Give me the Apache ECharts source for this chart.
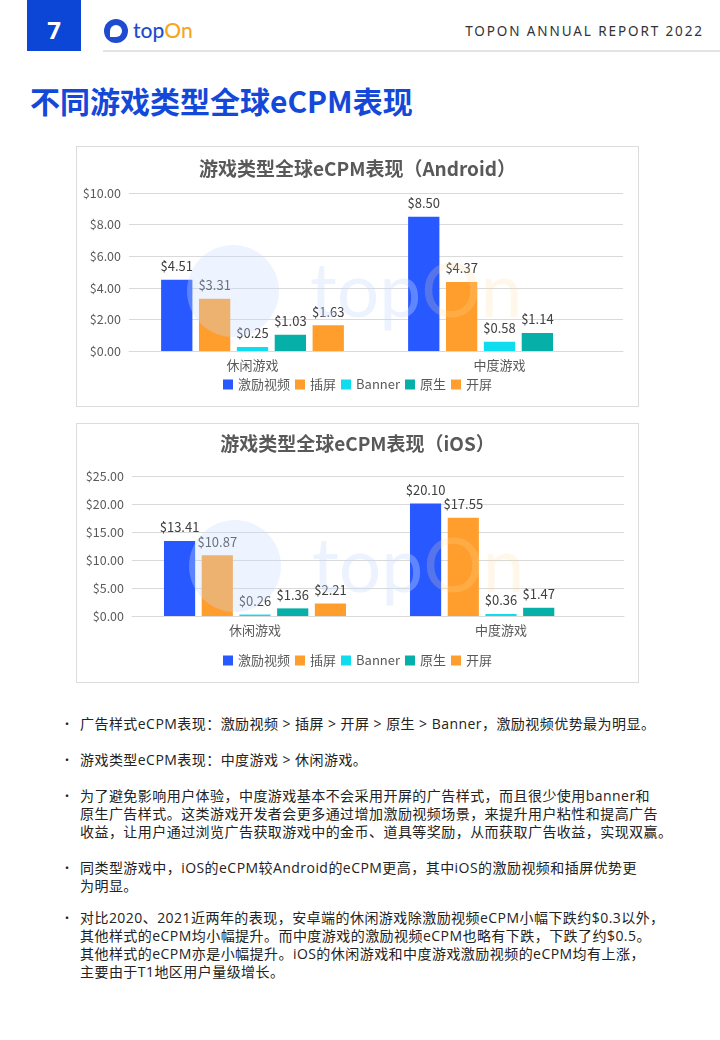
<!DOCTYPE html>
<html>
<head>
<meta charset="utf-8">
<script src="https://cdn.jsdelivr.net/npm/echarts@6/dist/echarts.min.js"></script>
<style>
  html, body { margin:0; padding:0; background:#fff; }
  body { width:720px; height:1040px; position:relative; overflow:hidden; font-family:"Noto Sans CJK SC","Noto Sans",sans-serif; }
  .abs { position:absolute; }
  #pagebox { left:27px; top:0; width:54px; height:51px; background:#0b46d6; color:#fff; font:bold 24px "Noto Sans","DejaVu Sans",sans-serif; text-align:center; line-height:60px; }
  #hline { left:103px; top:50px; width:617px; height:2px; background:#e3e3e3; }
  #logoIcon { left:104px; top:19px; width:24px; height:24px; border-radius:50%; background:#1f4bd1; }
  #logoText { left:133px; top:16px; font:500 21px "Lato","Noto Sans",sans-serif; line-height:28px; }
  #report { right:16px; top:22px; font:13.5px "Noto Sans","DejaVu Sans",sans-serif; letter-spacing:1.9px; color:#333; line-height:18px; }
  #pageTitle { left:30px; top:79px; font:bold 30px "Noto Sans CJK SC",sans-serif; color:#1448d8; line-height:42px; white-space:nowrap; }
  .box { border:1.5px solid #dcdcdc; box-sizing:border-box; }
  .bl { position:absolute; left:80px; font-size:14px; font-family:"Open Sans","Noto Sans CJK SC",sans-serif; letter-spacing:0.45px; color:#222; line-height:18px; white-space:nowrap; }
  .bl .cjk { font-family:"Noto Sans CJK SC",sans-serif; }
  .dot { position:absolute; left:61px; font-size:12px; color:#222; line-height:18px; }
</style>
</head>
<body>
<div id="pagebox" class="abs">7</div>
<div id="logoIcon" class="abs"><div style="position:absolute;left:6px;top:6px;width:12px;height:12px;border-radius:50% 50% 50% 0;background:#fff;"></div></div>
<div id="logoText" class="abs"><span style="color:#1f4bd1">top</span><span style="color:#f5a623">On</span></div>
<div id="report" class="abs">TOPON ANNUAL REPORT 2022</div>
<div id="hline" class="abs"></div>
<div id="pageTitle" class="abs">不同游戏类型全球eCPM表现</div>

<div class="abs box" style="left:76px;top:146px;width:563px;height:261px;"></div>
<div id="c1" class="abs" style="left:76px;top:146px;width:563px;height:261px;"></div>
<div class="abs box" style="left:76px;top:423px;width:563px;height:260px;"></div>
<div id="c2" class="abs" style="left:76px;top:423px;width:563px;height:260px;"></div>

<div id="bullets"></div>

<script>
// ---- data ----
const categories = ['休闲游戏', '中度游戏'];
const seriesNames = ['激励视频', '插屏', 'Banner', '原生', '开屏'];
const androidReward = [4.51, 8.50];
const androidInter = [3.31, 4.37];
const androidBanner = [0.25, 0.58];
const androidNative = [1.03, 1.14];
const androidSplash = [1.63, null];
const iosReward = [13.41, 20.10];
const iosInter = [10.87, 17.55];
const iosBanner = [0.26, 0.36];
const iosNative = [1.36, 1.47];
const iosSplash = [2.21, null];
const androidTicks = [0, 2, 4, 6, 8, 10];
const iosTicks = [0, 5, 10, 15, 20, 25];
const chartTitles = ['游戏类型全球eCPM表现（Android）', '游戏类型全球eCPM表现（iOS）'];
const bulletLines = [
  ['广告样式eCPM表现：激励视频 > 插屏 > 开屏 > 原生 > Banner，激励视频优势最为明显。'],
  ['游戏类型eCPM表现：中度游戏 > 休闲游戏。'],
  ['为了避免影响用户体验，中度游戏基本不会采用开屏的广告样式，而且很少使用banner和',
   '原生广告样式。这类游戏开发者会更多通过增加激励视频场景，来提升用户粘性和提高广告',
   '收益，让用户通过浏览广告获取游戏中的金币、道具等奖励，从而获取广告收益，实现双赢。'],
  ['同类型游戏中，iOS的eCPM较Android的eCPM更高，其中iOS的激励视频和插屏优势更',
   '为明显。'],
  ['对比2020、2021近两年的表现，安卓端的休闲游戏除激励视频eCPM小幅下跌约$0.3以外，',
   '其他样式的eCPM均小幅提升。而中度游戏的激励视频eCPM也略有下跌，下跌了约$0.5。',
   '其他样式的eCPM亦是小幅提升。iOS的休闲游戏和中度游戏激励视频的eCPM均有上涨，',
   '主要由于T1地区用户量级增长。']
];
const bulletTops = [715, 751, 787, 859, 909];

const colors = ['#2858ff', '#ff9e2c', '#10dcf0', '#06b0a8', '#ff9e2c'];
const FONT = '"Noto Sans CJK SC", "Noto Sans", sans-serif';

// bullets
(function(){
  const host = document.getElementById('bullets');
  bulletLines.forEach((lines, i) => {
    const d = document.createElement('div');
    d.className = 'dot'; d.style.top = bulletTops[i] + 'px'; d.textContent = '•';
    host.appendChild(d);
    lines.forEach((t, j) => {
      const l = document.createElement('div');
      l.className = 'bl'; l.style.top = (bulletTops[i] + j * 18) + 'px'; l.textContent = t;
      host.appendChild(l);
    });
  });
})();

function makeOption(title, values, ticks, grid, wm) {
  const max = ticks[ticks.length - 1];
  const interval = ticks[1] - ticks[0];
  return {
    animation: false,
    textStyle: { fontFamily: FONT },
    grid: grid,
    legend: {
      data: seriesNames, bottom: 11, left: 'center',
      itemWidth: 10, itemHeight: 10, itemGap: 5, icon: 'rect',
      textStyle: { fontSize: 13, color: '#595959', fontFamily: FONT }
    },
    xAxis: {
      type: 'category', data: categories,
      axisLine: { lineStyle: { color: '#d9d9d9' } },
      axisTick: { show: false },
      axisLabel: { fontSize: 13, color: '#595959', margin: 8, fontFamily: FONT }
    },
    yAxis: {
      type: 'value', min: 0, max: max, interval: interval,
      axisLine: { show: false }, axisTick: { show: false },
      splitLine: { lineStyle: { color: '#d9d9d9' } },
      axisLabel: { fontSize: 12.5, color: '#595959', margin: 8, fontFamily: FONT,
        formatter: v => '$' + v.toFixed(2) }
    },
    series: seriesNames.map((n, i) => ({
      name: n, type: 'bar', data: values[i],
      barGap: '21%', barCategoryGap: '26%',
      itemStyle: { color: colors[i] },
      label: { show: true, position: 'top', distance: 7, fontSize: 13, color: '#404040',
        fontFamily: FONT, formatter: p => '$' + p.value.toFixed(2) }
    })),
    graphic: [
      { type: 'text', left: 'center', top: wm.titleTop, z: 10,
        style: { text: title, font: 'bold 19px ' + FONT, fill: '#595959' } },
      { type: 'circle', z: 20, silent: true,
        shape: { cx: wm.cx, cy: wm.cy, r: 46 },
        style: { fill: 'rgba(200,220,255,0.32)' } },
      { type: 'text', z: 20, silent: true, x: wm.cx + 77, y: wm.cy + 2,
        style: { text: '{a|top}{b|On}', textVerticalAlign: 'middle',
          rich: {
            a: { fontSize: 75, fontFamily: '"Lato","Noto Sans",sans-serif', fill: 'rgba(200,220,255,0.35)' },
            b: { fontSize: 75, fontFamily: '"Lato","Noto Sans",sans-serif', fill: 'rgba(255,225,160,0.22)' }
          } } }
    ]
  };
}

const c1 = echarts.init(document.getElementById('c1'));
c1.setOption(makeOption(chartTitles[0],
  [androidReward, androidInter, androidBanner, androidNative, androidSplash],
  androidTicks, { left: 53, right: 16, top: 47, bottom: 56 },
  { cx: 157, cy: 145, titleTop: 13 }));

const c2 = echarts.init(document.getElementById('c2'));
c2.setOption(makeOption(chartTitles[1],
  [iosReward, iosInter, iosBanner, iosNative, iosSplash],
  iosTicks, { left: 56, right: 15, top: 53, bottom: 67 },
  { cx: 159, cy: 143, titleTop: 11 }));
</script>
</body>
</html>
